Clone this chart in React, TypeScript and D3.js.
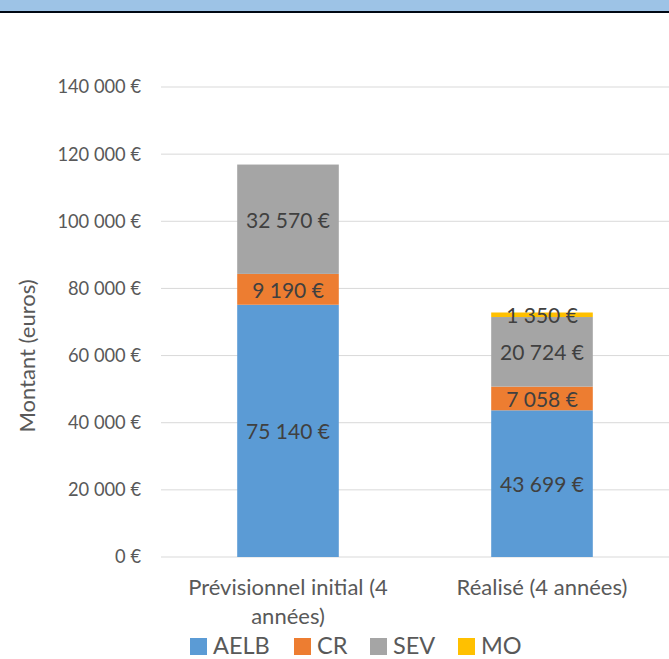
import React, { useEffect, useRef } from "react";
import * as d3 from "d3";

const categories = ["Prévisionnel initial (4 années)", "Réalisé (4 années)"];
const categoryLines = [["Prévisionnel initial (4", "années)"], ["Réalisé (4 années)"]];
const seriesNames = ["AELB", "CR", "SEV", "MO"];
const seriesColors = ["#5B9BD5", "#ED7D31", "#A5A5A5", "#FFC000"];
const aelb = [75140, 43699];
const cr = [9190, 7058];
const sev = [32570, 20724];
const mo = [0, 1350];
const yTicks = [0, 20000, 40000, 60000, 80000, 100000, 120000, 140000];

const W = 669;
const H = 659;
const FONT = "Lato, 'Open Sans', sans-serif";

const fmt = (v: number) => d3.format(",")(v).replace(/,/g, " ") + " €";

const App = () => {
  const svgRef = useRef<SVGSVGElement>(null);

  useEffect(() => {
    const svg = d3.select(svgRef.current);
    svg.selectAll("*").remove();

    // header band
    svg.append("rect").attr("x", 0).attr("y", 0).attr("width", W).attr("height", 11).attr("fill", "#9DC3E6");
    svg.append("rect").attr("x", 0).attr("y", 11).attr("width", W).attr("height", 2).attr("fill", "#000814");

    const margin = { left: 161, right: 0, top: 87, bottom: 102 };
    const x = d3
      .scaleBand()
      .domain(categories)
      .range([margin.left, W - margin.right])
      .paddingInner(0.6)
      .paddingOuter(0.3);
    const y = d3.scaleLinear().domain([0, 140000]).range([H - margin.bottom, margin.top]);

    // gridlines
    svg
      .append("g")
      .selectAll("line")
      .data(yTicks)
      .join("line")
      .attr("x1", margin.left)
      .attr("x2", W)
      .attr("y1", (d) => y(d))
      .attr("y2", (d) => y(d))
      .attr("stroke", "#D9D9D9")
      .attr("stroke-width", 1);

    // y tick labels
    svg
      .append("g")
      .selectAll("text")
      .data(yTicks)
      .join("text")
      .attr("x", 141)
      .attr("y", (d) => y(d))
      .attr("dy", "0.35em")
      .attr("text-anchor", "end")
      .attr("font-family", FONT)
      .attr("font-size", 18.3)
      .attr("fill", "#595959")
      .text((d) => fmt(d));

    // stacked bars
    const rows = categories.map((c, i) => ({ cat: c, AELB: aelb[i], CR: cr[i], SEV: sev[i], MO: mo[i] }));
    const stack = d3.stack<any>().keys(seriesNames)(rows);
    const color = d3.scaleOrdinal<string>().domain(seriesNames).range(seriesColors);

    stack.forEach((layer) => {
      const g = svg.append("g");
      g.selectAll("rect")
        .data(layer.filter((d) => d[1] - d[0] > 0))
        .join("rect")
        .attr("x", (d) => x(d.data.cat)!)
        .attr("width", x.bandwidth())
        .attr("y", (d) => y(d[1]))
        .attr("height", (d) => y(d[0]) - y(d[1]))
        .attr("fill", color(layer.key));
    });

    // data labels
    stack.forEach((layer) => {
      svg
        .append("g")
        .selectAll("text")
        .data(layer.filter((d) => d[1] - d[0] > 0))
        .join("text")
        .attr("x", (d) => x(d.data.cat)! + x.bandwidth() / 2)
        .attr("y", (d) => (layer.key === "MO" ? y(d[1]) + 3 : (y(d[0]) + y(d[1])) / 2 + 1))
        .attr("dy", "0.35em")
        .attr("text-anchor", "middle")
        .attr("font-family", FONT)
        .attr("font-size", 21)
        .attr("fill", "#404040")
        .text((d) => fmt(d[1] - d[0]));
    });

    // category labels
    categories.forEach((c, i) => {
      const t = svg
        .append("text")
        .attr("text-anchor", "middle")
        .attr("font-family", FONT)
        .attr("font-size", 22)
        .attr("fill", "#595959");
      categoryLines[i].forEach((line, j) => {
        t.append("tspan")
          .attr("x", x(c)! + x.bandwidth() / 2)
          .attr("y", 595 + j * 29)
          .text(line);
      });
    });

    // y axis title
    svg
      .append("text")
      .attr("transform", `translate(35, ${(y(0) + y(140000)) / 2 + 34}) rotate(-90)`)
      .attr("text-anchor", "middle")
      .attr("font-family", FONT)
      .attr("font-size", 22)
      .attr("fill", "#595959")
      .text("Montant (euros)");

    // legend
    const legendX = [190, 294, 370, 458];
    const lg = svg.append("g");
    seriesNames.forEach((s, i) => {
      lg.append("rect")
        .attr("x", legendX[i])
        .attr("y", 638)
        .attr("width", 17)
        .attr("height", 17)
        .attr("fill", seriesColors[i]);
      lg.append("text")
        .attr("x", legendX[i] + 23)
        .attr("y", 654)
        .attr("font-family", FONT)
        .attr("font-size", 23.5)
        .attr("fill", "#595959")
        .text(s);
    });
  }, []);

  return (
    <svg
      ref={svgRef}
      width={W}
      height={H}
      style={{ position: "absolute", left: 0, top: 0, background: "#fff" }}
    />
  );
};

export default App;
